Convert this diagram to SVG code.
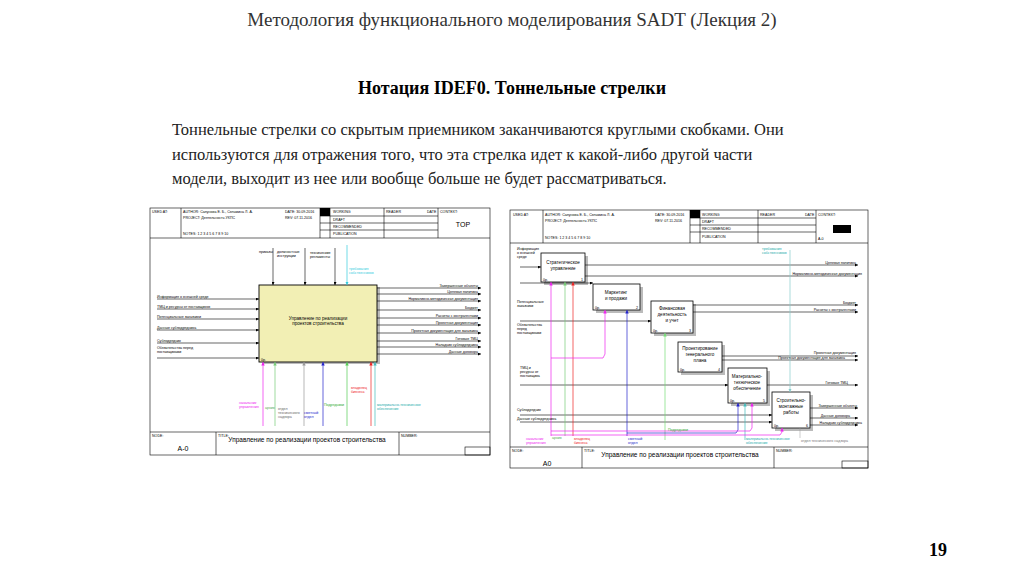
<svg xmlns="http://www.w3.org/2000/svg" width="1024" height="574" viewBox="0 0 1024 574">
<style>
.ln{stroke:#000;stroke-width:0.6;fill:none}
.fr{stroke:#000;stroke-width:0.6;fill:none}
.t{font-family:"Liberation Sans",Arial,sans-serif;font-size:3.6px;fill:#000}
.h{font-family:"Liberation Sans",Arial,sans-serif;fill:#000}
.h6{font-size:6px}
.h7{font-size:7px}
.h65{font-size:6.5px}
.bx{fill:#fff;stroke:#000;stroke-width:0.8}
.bt{font-family:"Liberation Sans",Arial,sans-serif;font-size:4.6px;fill:#000;text-anchor:middle}
.sh{fill:#bbb}
</style>
<defs>
<marker id="a" viewBox="0 0 6 6" refX="6" refY="3" markerWidth="5" markerHeight="5" orient="auto"><path d="M0,0L6,3L0,6z" fill="#000"/></marker>
<marker id="am" viewBox="0 0 6 6" refX="6" refY="3" markerWidth="5" markerHeight="5" orient="auto"><path d="M0,0L6,3L0,6z" fill="context-stroke"/></marker>
</defs>
<rect width="1024" height="574" fill="#fff"/>
<text x="512" y="26" text-anchor="middle" font-family="Liberation Serif,serif" font-size="19" fill="#333">Методология функционального моделирования SADT (Лекция 2)</text>
<text x="512" y="94" text-anchor="middle" font-family="Liberation Serif,serif" font-size="18" font-weight="bold" fill="#000">Нотация IDEF0. Тоннельные стрелки</text>
<g font-family="Liberation Serif,serif" font-size="16.5" fill="#222">
<text x="172" y="135">Тоннельные стрелки со скрытым приемником заканчиваются круглыми скобками. Они</text>
<text x="172" y="160">используются для отражения того, что эта стрелка идет к какой-либо другой части</text>
<text x="172" y="184">модели, выходит из нее или вообще больше не будет рассматриваться.</text>
</g>
<text x="938" y="556" text-anchor="middle" font-family="Liberation Serif,serif" font-size="18" font-weight="bold">19</text>

<!-- LEFT DIAGRAM -->
<g id="left-frame">
<rect x="150" y="208" width="340" height="247" class="fr"/>
<line x1="150" y1="238" x2="490" y2="238" class="fr"/>
<line x1="181" y1="208" x2="181" y2="238" class="fr"/>
<line x1="320" y1="208" x2="320" y2="238" class="fr"/>
<line x1="330" y1="208" x2="330" y2="238" class="fr"/>
<line x1="384" y1="208" x2="384" y2="238" class="fr"/>
<line x1="438" y1="208" x2="438" y2="238" class="fr"/>
<line x1="320" y1="216" x2="438" y2="216" class="fr"/>
<line x1="320" y1="223" x2="438" y2="223" class="fr"/>
<line x1="320" y1="230" x2="438" y2="230" class="fr"/>
<rect x="320" y="208" width="10" height="8" fill="#000"/>
<text x="152" y="213" class="t">USED AT:</text>
<text x="183" y="213" class="t">AUTHOR:  Сапунова Е. Б., Сельмина Л. А.</text>
<text x="183" y="219" class="t">PROJECT:  Деятельность УКПС</text>
<text x="183" y="235" class="t">NOTES:  1  2  3  4  5  6  7  8  9  10</text>
<text x="285" y="213" class="t">DATE: 30.09.2016</text>
<text x="285" y="219" class="t">REV:  07.11.2016</text>
<text x="333" y="213" class="t">WORKING</text>
<text x="333" y="221" class="t">DRAFT</text>
<text x="333" y="228" class="t">RECOMMENDED</text>
<text x="333" y="235" class="t">PUBLICATION</text>
<text x="386" y="213" class="t">READER</text>
<text x="427" y="213" class="t">DATE</text>
<text x="440" y="213" class="t">CONTEXT:</text>
<text x="463" y="227" text-anchor="middle" class="h h7">TOP</text>
<line x1="150" y1="432" x2="490" y2="432" class="fr"/>
<line x1="216" y1="432" x2="216" y2="455" class="fr"/>
<line x1="399" y1="432" x2="399" y2="455" class="fr"/>
<rect x="465" y="447" width="25" height="8" class="fr"/>
<text x="152" y="437" class="t">NODE:</text>
<text x="218" y="437" class="t">TITLE:</text>
<text x="401" y="437" class="t">NUMBER:</text>
<text x="183" y="451" text-anchor="middle" class="h h7">A-0</text>
<text x="307" y="442" text-anchor="middle" class="h h65">Управление по реализации  проектов строительства</text>
</g>
<g id="left-box">
<rect x="262" y="287" width="118" height="77" class="sh"/>
<rect x="259" y="285" width="118" height="77" fill="#f2efb4" stroke="#000" stroke-width="0.9"/>
<text x="318" y="320" class="bt">Управление по реализации</text>
<text x="318" y="325" class="bt">проектов строительства</text>
<text x="261" y="361" class="t">0р.</text>
</g>
<g id="left-connectors">
<g class="ln" marker-end="url(#a)">
<line x1="273" y1="248" x2="273" y2="285"/><line x1="305" y1="248" x2="305" y2="285"/><line x1="335" y1="248" x2="335" y2="285"/>
<line x1="157" y1="299" x2="259" y2="299"/><line x1="157" y1="309" x2="259" y2="309"/><line x1="157" y1="319" x2="259" y2="319"/><line x1="157" y1="330" x2="259" y2="330"/><line x1="157" y1="343" x2="259" y2="343"/><line x1="157" y1="358" x2="259" y2="358"/>
<line x1="377" y1="288" x2="481" y2="288"/><line x1="377" y1="294" x2="481" y2="294"/><line x1="377" y1="301" x2="481" y2="301"/><line x1="377" y1="310" x2="481" y2="310"/><line x1="377" y1="318" x2="481" y2="318"/><line x1="377" y1="325" x2="481" y2="325"/><line x1="377" y1="333" x2="481" y2="333"/><line x1="377" y1="341" x2="481" y2="341"/><line x1="377" y1="347" x2="481" y2="347"/><line x1="377" y1="354" x2="481" y2="354"/>
</g>
<line x1="347" y1="245" x2="347" y2="285" stroke="#3cd" stroke-width="0.7" marker-end="url(#am)"/>
<line x1="263" y1="426" x2="263" y2="362" stroke="#e2e" stroke-width="0.7" marker-end="url(#am)"/>
<line x1="275" y1="426" x2="275" y2="362" stroke="#7c7" stroke-width="0.7" marker-end="url(#am)"/>
<line x1="304" y1="426" x2="304" y2="362" stroke="#999" stroke-width="0.7" marker-end="url(#am)"/>
<line x1="323" y1="426" x2="323" y2="362" stroke="#22c" stroke-width="0.7" marker-end="url(#am)"/>
<line x1="347" y1="426" x2="347" y2="362" stroke="#5c5" stroke-width="0.7" marker-end="url(#am)"/>
<line x1="371" y1="426" x2="371" y2="362" stroke="#e22" stroke-width="0.7" marker-end="url(#am)"/>
<line x1="375" y1="426" x2="375" y2="362" stroke="#4bb" stroke-width="0.7" marker-end="url(#am)"/>
</g>
<g id="left-labels" class="t">
<text x="259" y="253">приказы</text>
<text x="277" y="253">должностные</text><text x="277" y="257">инструкции</text>
<text x="310" y="254">технические</text><text x="310" y="258">регламенты</text>
<text x="349" y="270" fill="#3cd">требования</text><text x="349" y="274" fill="#3cd">собственников</text>
<text x="157" y="298">Информация о внешней среде</text>
<text x="157" y="308">ТМЦ и ресурсы от поставщиков</text>
<text x="157" y="318">Потенциальные заказчики</text>
<text x="157" y="329">Данные субподрядчика</text>
<text x="157" y="342">Субподрядчик</text>
<text x="157" y="349">Обязательства перед</text><text x="157" y="353">поставщиками</text>
<g text-anchor="end">
<text x="478" y="287">Завершенные объекты</text>
<text x="478" y="293">Целевая политика</text>
<text x="478" y="300">Нормативно-методическая документация</text>
<text x="478" y="309">Бюджет</text>
<text x="478" y="317">Расчеты с контрагентами</text>
<text x="478" y="324">Проектная документация</text>
<text x="478" y="332">Проектная документация для заказчика</text>
<text x="478" y="340">Готовые ТМЦ</text>
<text x="478" y="346">Наладчик субподрядчика</text>
<text x="478" y="353">Данные договора</text>
</g>
<text x="239" y="404" fill="#e2e">начальник</text><text x="239" y="408" fill="#e2e">управления</text>
<text x="265" y="409" fill="#5a5">архив</text>
<text x="278" y="410" fill="#666">отдел</text><text x="278" y="414" fill="#666">технического</text><text x="278" y="418" fill="#666">надзора</text>
<text x="304" y="414" fill="#22c">сметный</text><text x="304" y="418" fill="#22c">отдел</text>
<text x="324" y="406" fill="#3a3">Подрядчики</text>
<text x="351" y="389" fill="#e22">владелец</text><text x="351" y="393" fill="#e22">бизнеса</text>
<text x="377" y="406" fill="#2aa">материально-техническое</text><text x="377" y="410" fill="#2aa">обеспечение</text>
</g>

<!-- RIGHT DIAGRAM -->
<g id="right-frame">
<rect x="510" y="210" width="358" height="258" class="fr"/>
<line x1="510" y1="243" x2="868" y2="243" class="fr"/>
<line x1="543" y1="210" x2="543" y2="243" class="fr"/>
<line x1="690" y1="210" x2="690" y2="243" class="fr"/>
<line x1="700" y1="210" x2="700" y2="243" class="fr"/>
<line x1="758" y1="210" x2="758" y2="243" class="fr"/>
<line x1="816" y1="210" x2="816" y2="243" class="fr"/>
<line x1="690" y1="218" x2="816" y2="218" class="fr"/>
<line x1="690" y1="225" x2="816" y2="225" class="fr"/>
<line x1="690" y1="232" x2="816" y2="232" class="fr"/>
<rect x="690" y="210" width="10" height="8" fill="#000"/>
<rect x="833" y="225" width="18" height="8" fill="#000"/>
<text x="513" y="216" class="t">USED AT:</text>
<text x="545" y="216" class="t">AUTHOR:  Сапунова Е. Б., Сельмина Л. А.</text>
<text x="545" y="222" class="t">PROJECT:  Деятельность УКПС</text>
<text x="545" y="239" class="t">NOTES:  1  2  3  4  5  6  7  8  9  10</text>
<text x="655" y="216" class="t">DATE: 30.09.2016</text>
<text x="655" y="222" class="t">REV:  07.11.2016</text>
<text x="702" y="216" class="t">WORKING</text>
<text x="702" y="223" class="t">DRAFT</text>
<text x="702" y="230" class="t">RECOMMENDED</text>
<text x="702" y="238" class="t">PUBLICATION</text>
<text x="760" y="216" class="t">READER</text>
<text x="805" y="216" class="t">DATE</text>
<text x="818" y="216" class="t">CONTEXT:</text>
<text x="818" y="240" class="t">A-0</text>
<line x1="510" y1="447" x2="868" y2="447" class="fr"/>
<line x1="582" y1="447" x2="582" y2="468" class="fr"/>
<line x1="774" y1="447" x2="774" y2="468" class="fr"/>
<rect x="842" y="461" width="26" height="7" class="fr"/>
<text x="512" y="452" class="t">NODE:</text>
<text x="584" y="452" class="t">TITLE:</text>
<text x="776" y="452" class="t">NUMBER:</text>
<text x="547" y="466" text-anchor="middle" class="h h7">A0</text>
<text x="680" y="457" text-anchor="middle" class="h h65">Управление по реализации  проектов строительства</text>
</g>
<g id="r-box1"><rect x="544" y="256" width="44" height="29" class="sh"/><rect x="541" y="253" width="44" height="29" class="bx"/><text x="563" y="264" class="bt">Стратегическое</text><text x="563" y="270" class="bt">управление</text><text x="543" y="281" class="t">0р.</text><text x="581" y="281" class="t">1</text></g>
<g id="r-box2"><rect x="596" y="287" width="47" height="26" class="sh"/><rect x="593" y="284" width="47" height="26" class="bx"/><text x="616" y="294" class="bt">Маркетинг</text><text x="616" y="300" class="bt">и продажи</text><text x="595" y="309" class="t">0р.</text><text x="636" y="309" class="t">2</text></g>
<g id="r-box3"><rect x="654" y="304" width="42" height="32" class="sh"/><rect x="651" y="301" width="42" height="32" class="bx"/><text x="672" y="310" class="bt">Финансовая</text><text x="672" y="316" class="bt">деятельность</text><text x="672" y="322" class="bt">и учет</text><text x="653" y="332" class="t">0р.</text><text x="689" y="332" class="t">3</text></g>
<g id="r-box4"><rect x="681" y="345" width="44" height="30" class="sh"/><rect x="678" y="342" width="44" height="30" class="bx"/><text x="700" y="350" class="bt">Проектирование</text><text x="700" y="356" class="bt">генерального</text><text x="700" y="362" class="bt">плана</text><text x="680" y="371" class="t">0р.</text><text x="718" y="371" class="t">4</text></g>
<g id="r-box5"><rect x="731" y="371" width="39" height="35" class="sh"/><rect x="728" y="368" width="39" height="35" class="bx"/><text x="747" y="378" class="bt">Материально-</text><text x="747" y="384" class="bt">техническое</text><text x="747" y="390" class="bt">обеспечение</text><text x="730" y="402" class="t">0р.</text><text x="763" y="402" class="t">5</text></g>
<g id="r-box6"><rect x="775" y="395" width="38" height="36" class="sh"/><rect x="772" y="392" width="38" height="36" class="bx"/><text x="791" y="402" class="bt">Строительно-</text><text x="791" y="408" class="bt">монтажные</text><text x="791" y="414" class="bt">работы</text><text x="774" y="427" class="t">0р.</text><text x="806" y="427" class="t">6</text></g>
<g id="right-connectors">
<g class="ln" marker-end="url(#a)">
<line x1="520" y1="267" x2="541" y2="267"/><line x1="520" y1="283" x2="593" y2="283"/><line x1="520" y1="321" x2="651" y2="321"/><line x1="520" y1="385" x2="728" y2="385"/><line x1="520" y1="415" x2="772" y2="415"/><line x1="520" y1="422" x2="772" y2="422"/>
<line x1="585" y1="265" x2="858" y2="265"/><line x1="585" y1="276" x2="858" y2="276"/>
<line x1="693" y1="305" x2="858" y2="305"/><line x1="693" y1="312" x2="858" y2="312"/>
<line x1="722" y1="356" x2="858" y2="356"/><line x1="722" y1="360" x2="858" y2="360"/>
<line x1="767" y1="385" x2="858" y2="385"/>
<line x1="810" y1="408" x2="858" y2="408"/><line x1="810" y1="418" x2="858" y2="418"/><line x1="810" y1="425" x2="858" y2="425"/>
</g>
<polyline points="790,250 790,392" stroke="#8cc" stroke-width="0.7" fill="none" marker-end="url(#am)"/>
<polyline points="551,436 551,282" stroke="#e2e" stroke-width="0.7" fill="none" marker-end="url(#am)"/>
<polyline points="565,436 565,282" stroke="#7c7" stroke-width="0.7" fill="none" marker-end="url(#am)"/>
<polyline points="573,436 573,282" stroke="#e22" stroke-width="0.7" fill="none" marker-end="url(#am)"/>
<polyline points="551,358 603,358 605,354 605,310" stroke="#e2e" stroke-width="0.7" fill="none" marker-end="url(#am)"/>
<polyline points="627,436 627,310" stroke="#22c" stroke-width="0.7" fill="none" marker-end="url(#am)"/>
<polyline points="665,440 665,333" stroke="#7d7" stroke-width="0.7" fill="none" marker-end="url(#am)"/>
<polyline points="627,433 736,433 738,430 738,403" stroke="#22c" stroke-width="0.7" fill="none" marker-end="url(#am)"/>
<polyline points="745,440 745,403" stroke="#4bb" stroke-width="0.7" fill="none" marker-end="url(#am)"/>
<polyline points="551,431 750,431 752,428 752,403" stroke="#e2e" stroke-width="0.7" fill="none" marker-end="url(#am)"/>
<polyline points="551,435 780,435 782,432 782,428" stroke="#e2e" stroke-width="0.7" fill="none" marker-end="url(#am)"/>
<polyline points="800,428 800,438" stroke="#999" stroke-width="0.5" fill="none"/>
</g>
<g id="right-labels" class="t">
<text x="517" y="250">Информация</text><text x="517" y="254">о внешней</text><text x="517" y="258">среде</text>
<text x="762" y="250" fill="#2aa">требования</text><text x="762" y="254" fill="#2aa">собственников</text>
<text x="517" y="303">Потенциальные</text><text x="517" y="307">заказчики</text>
<text x="517" y="326">Обязательства</text><text x="517" y="330">перед</text><text x="517" y="334">поставщиками</text>
<text x="520" y="369">ТМЦ и</text><text x="520" y="373">ресурсы от</text><text x="520" y="377">поставщика</text>
<text x="517" y="411">Субподрядчик</text>
<text x="517" y="420">Данные субподрядчика</text>
<g text-anchor="end">
<text x="856" y="264">Целевая политика</text>
<text x="862" y="275">Нормативно-методическая документация</text>
<text x="856" y="304">Бюджет</text>
<text x="856" y="311">Расчеты с контрагентами</text>
<text x="856" y="354">Проектная документация</text>
<text x="845" y="359">Проектная документация для заказчика</text>
<text x="848" y="384">Готовые ТМЦ</text>
<text x="857" y="407">Завершенные объекты</text>
<text x="850" y="417">Данные договора</text>
<text x="862" y="424">Наладчик субподрядчика</text>
</g>
<text x="526" y="440" fill="#e2e">начальник</text><text x="526" y="444" fill="#e2e">управления</text>
<text x="552" y="439" fill="#5a5">архив</text>
<text x="574" y="440" fill="#e22">владелец</text><text x="574" y="444" fill="#e22">бизнеса</text>
<text x="628" y="440" fill="#22c">сметный</text><text x="628" y="444" fill="#22c">отдел</text>
<text x="668" y="431" fill="#3a3">Подрядчики</text>
<text x="746" y="440" fill="#2aa">материально-техническое</text><text x="746" y="444" fill="#2aa">обеспечение</text>
<text x="801" y="442" fill="#777">отдел технического надзора</text>
</g>
</svg>
